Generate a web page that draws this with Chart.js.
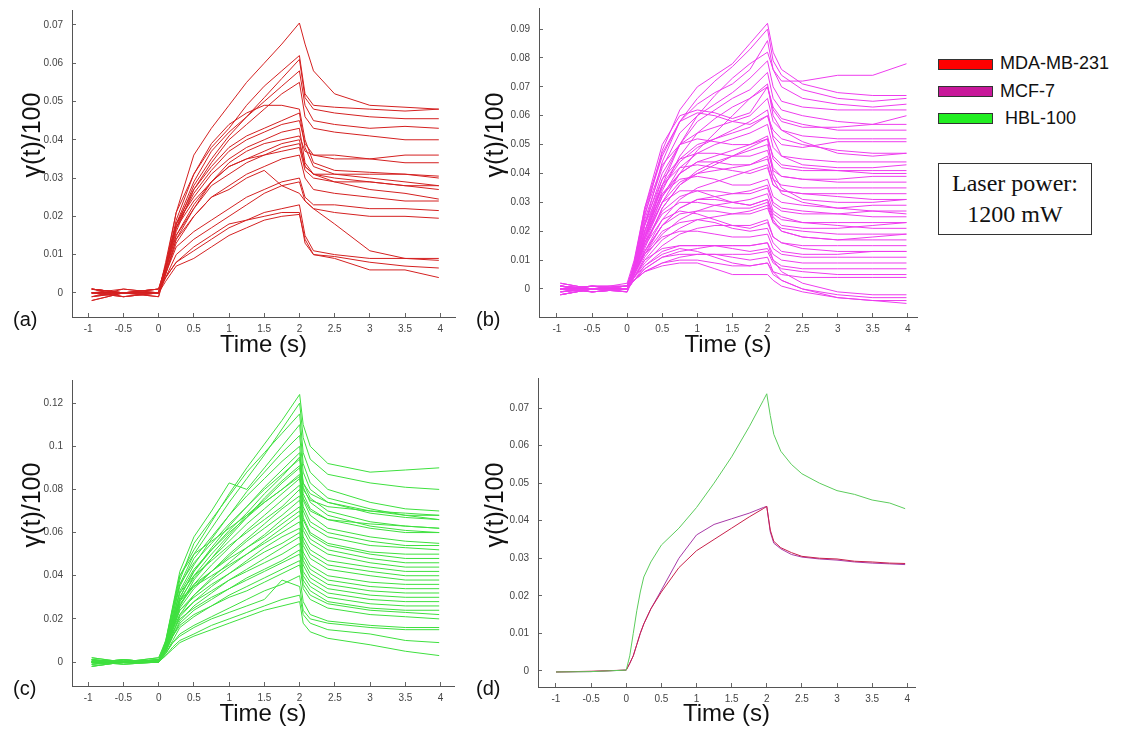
<!DOCTYPE html>
<html>
<head>
<meta charset="utf-8">
<script src="https://cdn.jsdelivr.net/npm/chart.js@4.4.1/dist/chart.umd.min.js"></script>
<style>
  body { margin: 0; background: #fff; width: 1121px; height: 729px; position: relative; overflow: hidden;
         font-family: "Liberation Sans", Arial, sans-serif; color: #111; }
  canvas { position: absolute; }
  .ytitle { position: absolute; font-size: 25px; white-space: nowrap; transform: translate(-50%, -50%) rotate(-90deg); }
  .plabel { position: absolute; font-size: 20px; line-height: 20px; }
  .swatch { position: absolute; left: 938px; width: 53px; height: 9px; border: 1px solid #333; }
  .ltext { position: absolute; left: 1000px; font-size: 18px; line-height: 18px; }
  #laser { position: absolute; left: 938px; top: 163px; width: 154px; height: 72px; border: 1px solid #333;
           font-family: "Liberation Serif", "Times New Roman", serif; font-size: 24px; line-height: 31px;
           text-align: center; box-sizing: border-box; padding-top: 4px; }
</style>
</head>
<body>
<canvas id="chartA" width="470" height="370" style="left:0;top:0"></canvas>
<canvas id="chartB" width="470" height="370" style="left:460px;top:0"></canvas>
<canvas id="chartC" width="470" height="359" style="left:0;top:370px"></canvas>
<canvas id="chartD" width="470" height="359" style="left:460px;top:370px"></canvas>

<div class="ytitle" style="left:31px;top:135px">γ(t)/100</div>
<div class="ytitle" style="left:494px;top:135px">γ(t)/100</div>
<div class="ytitle" style="left:31px;top:505px">γ(t)/100</div>
<div class="ytitle" style="left:494px;top:505px">γ(t)/100</div>

<div class="plabel" style="left:13px;top:309px">(a)</div>
<div class="plabel" style="left:476px;top:309px">(b)</div>
<div class="plabel" style="left:13px;top:678px">(c)</div>
<div class="plabel" style="left:476px;top:678px">(d)</div>

<div class="swatch" style="top:59px;background:#ff0000"></div>
<div class="ltext" style="top:54px">MDA-MB-231</div>
<div class="swatch" style="top:86px;background:#c8189a"></div>
<div class="ltext" style="top:82px">MCF-7</div>
<div class="swatch" style="top:113px;background:#22ee22"></div>
<div class="ltext" style="top:109px">&nbsp;HBL-100</div>
<div id="laser">Laser power:<br>1200 mW</div>

<script>
// tick values
const xTicks = [-1, -0.5, 0, 0.5, 1, 1.5, 2, 2.5, 3, 3.5, 4];
const yTicksA = [0, 0.01, 0.02, 0.03, 0.04, 0.05, 0.06, 0.07];
const yTicksB = [0, 0.01, 0.02, 0.03, 0.04, 0.05, 0.06, 0.07, 0.08, 0.09];
const yTicksC = [0, 0.02, 0.04, 0.06, 0.08, 0.1, 0.12];
const yTicksD = [0, 0.01, 0.02, 0.03, 0.04, 0.05, 0.06, 0.07];

// (a) MDA-MB-231 single cells
const timeA = [-0.95, -0.5, 0, 0.1, 0.25, 0.5, 0.75, 1, 1.25, 1.5, 1.75, 2, 2.08, 2.2, 2.5, 3, 3.5, 3.98];
const mdaCells = [
  [0.001,0.000,0.000, 0.007,0.021,0.036,0.043,0.049,0.055,0.060,0.065,0.0705, 0.065,0.058,0.052,0.049,0.0485,0.048],
  [-0.002,0.000,0.001, 0.007,0.019,0.031,0.038,0.043,0.049,0.054,0.058,0.062, 0.052,0.049,0.0485,0.048,0.0475,0.048],
  [0.000,-0.001,0.000, 0.006,0.017,0.028,0.035,0.041,0.046,0.051,0.056,0.061, 0.051,0.048,0.047,0.046,0.0455,0.0455],
  [0.001,0.000,-0.001, 0.007,0.018,0.029,0.037,0.042,0.046,0.050,0.054,0.058, 0.049,0.045,0.044,0.043,0.0435,0.043],
  [0.000,0.000,0.000, 0.006,0.016,0.027,0.034,0.040,0.044,0.048,0.052,0.055, 0.046,0.043,0.042,0.041,0.040,0.040],
  [-0.001,0.001,0.000, 0.008,0.021,0.031,0.039,0.044,0.047,0.049,0.049,0.048, 0.040,0.034,0.032,0.0315,0.031,0.030],
  [0.000,0.000,0.001, 0.007,0.018,0.027,0.033,0.038,0.041,0.043,0.045,0.047, 0.038,0.033,0.031,0.030,0.029,0.028],
  [0.001,-0.001,0.000, 0.006,0.017,0.026,0.032,0.037,0.040,0.042,0.044,0.045, 0.039,0.036,0.035,0.035,0.036,0.036],
  [0.000,0.000,0.000, 0.007,0.018,0.025,0.031,0.035,0.038,0.040,0.042,0.043, 0.034,0.031,0.030,0.029,0.028,0.027],
  [-0.002,0.000,0.001, 0.006,0.015,0.022,0.029,0.034,0.037,0.039,0.040,0.041, 0.037,0.036,0.036,0.035,0.034,0.034],
  [0.001,0.000,0.000, 0.007,0.017,0.024,0.029,0.033,0.035,0.037,0.039,0.040, 0.033,0.031,0.029,0.027,0.026,0.0245],
  [0.000,0.000,-0.001, 0.005,0.014,0.020,0.025,0.028,0.031,0.033,0.035,0.036, 0.030,0.027,0.026,0.025,0.024,0.024],
  [0.000,0.001,0.000, 0.005,0.013,0.020,0.025,0.027,0.030,0.032,0.028,0.026, 0.024,0.022,0.018,0.011,0.009,0.009],
  [-0.001,0.000,0.000, 0.005,0.012,0.016,0.019,0.022,0.025,0.027,0.029,0.030, 0.025,0.023,0.023,0.022,0.022,0.0215],
  [0.001,0.000,0.000, 0.004,0.010,0.014,0.017,0.020,0.023,0.026,0.028,0.029, 0.024,0.022,0.021,0.020,0.020,0.0195],
  [0.000,0.000,0.001, 0.004,0.008,0.011,0.014,0.017,0.019,0.021,0.022,0.023, 0.015,0.011,0.010,0.009,0.009,0.0085],
  [0.000,-0.001,0.000, 0.003,0.007,0.009,0.012,0.015,0.017,0.019,0.020,0.0205, 0.014,0.010,0.009,0.006,0.006,0.004],
  [0.001,0.000,0.000, 0.004,0.008,0.012,0.015,0.018,0.019,0.020,0.021,0.021, 0.013,0.010,0.0095,0.008,0.007,0.0065],
  [0.000,0.000,0.000, 0.005,0.014,0.022,0.028,0.031,0.034,0.036,0.038,0.039, 0.033,0.031,0.031,0.031,0.031,0.0305],
  [-0.001,0.000,0.000, 0.006,0.015,0.023,0.029,0.033,0.035,0.036,0.037,0.038, 0.032,0.030,0.029,0.029,0.028,0.028]
];

// (b) MCF-7 single cells
const timeB = [-0.95, -0.5, 0, 0.1, 0.25, 0.5, 0.75, 1, 1.25, 1.5, 1.75, 2, 2.08, 2.2, 2.5, 3, 3.5, 3.98];
const mcfCells = [
  [0.002,0.000,0.001, 0.008,0.025,0.048,0.062,0.070,0.074,0.078,0.085,0.092, 0.082,0.076,0.071,0.068,0.067,0.067],
  [-0.002,0.000,0.000, 0.007,0.022,0.044,0.058,0.066,0.072,0.077,0.083,0.090, 0.079,0.074,0.069,0.066,0.065,0.066],
  [0.000,0.001,0.000, 0.006,0.018,0.036,0.050,0.060,0.067,0.073,0.078,0.082, 0.076,0.072,0.072,0.074,0.074,0.078],
  [0.001,0.000,-0.001, 0.009,0.027,0.046,0.058,0.064,0.068,0.071,0.076,0.086, 0.076,0.070,0.066,0.064,0.063,0.064],
  [-0.001,0.001,0.001, 0.008,0.024,0.042,0.054,0.060,0.064,0.068,0.073,0.079, 0.070,0.065,0.063,0.062,0.062,0.062],
  [0.001,-0.001,0.000, 0.007,0.020,0.038,0.050,0.058,0.062,0.066,0.069,0.075, 0.066,0.062,0.060,0.058,0.057,0.057],
  [0.000,0.000,0.002, 0.010,0.028,0.047,0.058,0.061,0.060,0.058,0.057,0.060, 0.055,0.052,0.050,0.048,0.047,0.047],
  [-0.002,0.000,0.000, 0.006,0.018,0.034,0.046,0.054,0.059,0.063,0.066,0.070, 0.063,0.059,0.057,0.055,0.055,0.055],
  [0.001,0.000,0.000, 0.008,0.022,0.040,0.050,0.054,0.056,0.058,0.060,0.066, 0.058,0.055,0.053,0.052,0.052,0.052],
  [0.000,0.001,-0.001, 0.007,0.020,0.036,0.045,0.050,0.052,0.054,0.056,0.060, 0.053,0.050,0.049,0.051,0.051,0.051],
  [0.002,0.000,0.001, 0.009,0.026,0.043,0.050,0.052,0.051,0.050,0.050,0.052, 0.046,0.043,0.042,0.041,0.040,0.040],
  [-0.001,0.000,0.000, 0.006,0.017,0.032,0.042,0.047,0.050,0.052,0.054,0.057, 0.049,0.046,0.045,0.044,0.044,0.044],
  [0.000,0.000,0.001, 0.008,0.023,0.038,0.045,0.047,0.047,0.046,0.046,0.048, 0.041,0.039,0.038,0.037,0.037,0.037],
  [0.001,-0.001,0.000, 0.007,0.019,0.033,0.040,0.044,0.046,0.048,0.050,0.053, 0.045,0.042,0.041,0.041,0.041,0.041],
  [0.000,0.000,-0.001, 0.005,0.014,0.028,0.036,0.041,0.044,0.046,0.048,0.050, 0.042,0.039,0.038,0.038,0.039,0.039],
  [-0.002,0.000,0.001, 0.008,0.022,0.036,0.042,0.043,0.042,0.041,0.040,0.042, 0.036,0.034,0.033,0.033,0.033,0.033],
  [0.001,0.000,0.000, 0.006,0.017,0.030,0.037,0.040,0.041,0.042,0.043,0.045, 0.038,0.036,0.035,0.035,0.035,0.035],
  [0.000,0.001,0.000, 0.007,0.020,0.033,0.038,0.039,0.038,0.036,0.036,0.038, 0.032,0.030,0.029,0.028,0.029,0.029],
  [0.001,0.000,0.001, 0.005,0.013,0.024,0.031,0.035,0.037,0.039,0.041,0.043, 0.036,0.034,0.033,0.032,0.031,0.031],
  [-0.001,0.000,0.000, 0.006,0.016,0.027,0.032,0.034,0.034,0.033,0.033,0.035, 0.029,0.027,0.026,0.026,0.027,0.027],
  [0.000,-0.001,0.000, 0.005,0.012,0.022,0.028,0.031,0.032,0.033,0.034,0.036, 0.030,0.028,0.027,0.026,0.025,0.025],
  [0.002,0.000,0.000, 0.007,0.018,0.030,0.034,0.034,0.032,0.030,0.029,0.031, 0.026,0.024,0.023,0.023,0.023,0.023],
  [0.000,0.000,0.001, 0.004,0.011,0.019,0.024,0.027,0.029,0.030,0.031,0.033, 0.027,0.025,0.023,0.022,0.021,0.021],
  [-0.001,0.001,0.000, 0.005,0.013,0.022,0.026,0.027,0.027,0.026,0.026,0.028, 0.023,0.021,0.020,0.019,0.019,0.019],
  [0.001,0.000,-0.001, 0.004,0.010,0.017,0.021,0.024,0.025,0.026,0.027,0.029, 0.023,0.020,0.018,0.017,0.017,0.017],
  [0.000,0.000,0.000, 0.006,0.015,0.024,0.027,0.026,0.024,0.022,0.021,0.023, 0.018,0.016,0.015,0.015,0.015,0.015],
  [-0.002,0.000,0.001, 0.004,0.009,0.015,0.019,0.021,0.022,0.022,0.022,0.024, 0.018,0.016,0.014,0.013,0.013,0.013],
  [0.001,0.000,0.000, 0.005,0.012,0.018,0.020,0.020,0.019,0.018,0.018,0.019, 0.014,0.012,0.011,0.011,0.011,0.011],
  [0.000,-0.001,0.000, 0.003,0.008,0.013,0.015,0.015,0.015,0.015,0.015,0.016, 0.012,0.010,0.009,0.009,0.009,0.009],
  [0.000,0.001,0.001, 0.004,0.010,0.014,0.015,0.015,0.015,0.014,0.013,0.014, 0.010,0.008,0.007,0.007,0.007,0.007],
  [-0.001,0.000,0.000, 0.003,0.007,0.011,0.012,0.012,0.012,0.012,0.012,0.013, 0.009,0.007,0.006,0.005,0.005,0.005],
  [0.001,0.000,0.000, 0.003,0.006,0.009,0.010,0.010,0.009,0.008,0.008,0.009, 0.006,0.005,0.004,0.004,0.004,0.004],
  [0.000,0.000,0.000, 0.003,0.006,0.008,0.009,0.009,0.007,0.005,0.005,0.005, 0.003,0.001,-0.001,-0.003,-0.004,-0.004],
  [-0.002,0.000,0.000, 0.003,0.006,0.009,0.011,0.012,0.012,0.011,0.010,0.011, 0.006,0.003,0.000,-0.002,-0.003,-0.003],
  [0.000,0.000,0.001, 0.003,0.007,0.011,0.013,0.014,0.015,0.015,0.015,0.016, 0.010,0.006,0.002,-0.001,-0.002,-0.002],
  [0.001,-0.001,0.000, 0.004,0.008,0.012,0.014,0.013,0.011,0.009,0.008,0.009, 0.005,0.003,0.000,-0.003,-0.004,-0.005],
  [0.000,0.000,0.000, 0.009,0.028,0.050,0.060,0.062,0.061,0.059,0.061,0.070, 0.062,0.058,0.056,0.056,0.057,0.060],
  [0.001,0.000,0.000, 0.006,0.016,0.030,0.040,0.048,0.054,0.060,0.066,0.071, 0.060,0.055,0.051,0.047,0.046,0.047],
  [0.000,0.000,0.000, 0.005,0.015,0.028,0.036,0.040,0.043,0.046,0.049,0.052, 0.040,0.035,0.031,0.030,0.030,0.031],
  [0.000,0.001,0.000, 0.006,0.018,0.032,0.040,0.044,0.044,0.043,0.043,0.046, 0.038,0.033,0.030,0.028,0.027,0.026],
  [-0.001,0.000,0.000, 0.007,0.020,0.035,0.044,0.049,0.052,0.055,0.058,0.062, 0.052,0.046,0.043,0.042,0.042,0.043],
  [0.000,0.000,0.001, 0.005,0.013,0.022,0.028,0.031,0.031,0.030,0.029,0.031, 0.025,0.022,0.021,0.021,0.022,0.023],
  [0.001,0.000,0.000, 0.006,0.016,0.026,0.030,0.030,0.029,0.028,0.028,0.030, 0.024,0.020,0.018,0.017,0.018,0.019],
  [0.000,-0.001,0.000, 0.005,0.012,0.020,0.023,0.024,0.023,0.021,0.020,0.021, 0.016,0.013,0.012,0.012,0.013,0.013]
];

// (c) HBL-100 single cells
const timeC = [-0.95, -0.5, 0, 0.1, 0.2, 0.3, 0.5, 0.75, 1, 1.25, 1.5, 1.75, 2, 2.05, 2.15, 2.4, 3, 3.5, 3.98];
const hblCells = [
  [0.001,0.000,0.002, 0.010,0.025,0.040,0.052,0.065,0.078,0.090,0.101,0.112,0.124, 0.110,0.100,0.092,0.088,0.089,0.090],
  [0.000,0.001,0.000, 0.008,0.022,0.036,0.050,0.062,0.074,0.085,0.096,0.108,0.120, 0.104,0.094,0.087,0.083,0.081,0.080],
  [-0.002,0.000,0.001, 0.009,0.024,0.038,0.055,0.066,0.077,0.088,0.097,0.106,0.115, 0.097,0.088,0.080,0.074,0.071,0.070],
  [0.001,-0.001,0.000, 0.010,0.026,0.042,0.058,0.070,0.083,0.080,0.090,0.100,0.110, 0.092,0.083,0.076,0.071,0.068,0.068],
  [0.000,0.000,0.001, 0.007,0.020,0.033,0.045,0.057,0.068,0.079,0.088,0.097,0.105, 0.088,0.080,0.074,0.069,0.067,0.066],
  [0.001,0.000,0.000, 0.008,0.022,0.035,0.048,0.058,0.068,0.077,0.085,0.093,0.100, 0.083,0.076,0.070,0.065,0.063,0.062],
  [-0.001,0.001,0.000, 0.007,0.019,0.030,0.042,0.053,0.063,0.072,0.081,0.089,0.097, 0.081,0.074,0.068,0.063,0.061,0.060],
  [0.000,0.000,0.002, 0.009,0.024,0.036,0.046,0.055,0.064,0.072,0.080,0.087,0.094, 0.078,0.071,0.066,0.062,0.060,0.060],
  [0.002,0.000,0.000, 0.006,0.017,0.028,0.040,0.050,0.059,0.068,0.075,0.083,0.090, 0.075,0.068,0.062,0.058,0.056,0.055],
  [0.000,-0.001,0.000, 0.008,0.020,0.032,0.043,0.052,0.060,0.067,0.074,0.080,0.087, 0.072,0.065,0.060,0.056,0.054,0.054],
  [0.000,0.000,0.001, 0.007,0.018,0.029,0.039,0.048,0.056,0.064,0.071,0.078,0.085, 0.070,0.063,0.058,0.054,0.053,0.052],
  [-0.002,0.000,0.000, 0.006,0.016,0.026,0.036,0.045,0.053,0.061,0.068,0.075,0.082, 0.067,0.060,0.055,0.051,0.050,0.050],
  [0.001,0.000,0.001, 0.008,0.021,0.032,0.040,0.047,0.054,0.060,0.066,0.072,0.080, 0.066,0.059,0.054,0.050,0.048,0.048],
  [0.000,0.001,0.000, 0.006,0.015,0.025,0.034,0.042,0.050,0.057,0.064,0.071,0.077, 0.063,0.057,0.052,0.048,0.046,0.046],
  [0.000,0.000,0.000, 0.007,0.017,0.027,0.035,0.042,0.049,0.056,0.062,0.068,0.075, 0.061,0.055,0.050,0.046,0.044,0.044],
  [0.001,0.000,0.000, 0.005,0.013,0.022,0.031,0.039,0.046,0.053,0.059,0.066,0.072, 0.058,0.052,0.047,0.044,0.042,0.042],
  [-0.001,0.000,0.001, 0.007,0.018,0.028,0.036,0.042,0.048,0.053,0.058,0.064,0.070, 0.056,0.050,0.045,0.042,0.040,0.040],
  [0.000,0.001,0.000, 0.006,0.015,0.024,0.031,0.038,0.044,0.050,0.056,0.062,0.068, 0.054,0.048,0.043,0.040,0.038,0.038],
  [0.002,0.000,0.000, 0.008,0.020,0.029,0.035,0.040,0.045,0.050,0.055,0.060,0.065, 0.051,0.045,0.040,0.037,0.036,0.036],
  [0.000,0.000,0.001, 0.005,0.013,0.021,0.028,0.035,0.041,0.047,0.053,0.058,0.062, 0.049,0.043,0.038,0.035,0.034,0.034],
  [0.000,-0.001,0.000, 0.006,0.016,0.024,0.030,0.036,0.041,0.046,0.051,0.055,0.060, 0.047,0.041,0.036,0.033,0.032,0.032],
  [-0.001,0.000,0.000, 0.005,0.012,0.019,0.026,0.032,0.038,0.043,0.048,0.053,0.058, 0.045,0.039,0.034,0.031,0.030,0.030],
  [0.001,0.000,0.000, 0.006,0.015,0.022,0.028,0.033,0.038,0.042,0.046,0.050,0.055, 0.042,0.037,0.032,0.029,0.028,0.028],
  [0.000,0.000,0.001, 0.005,0.012,0.018,0.024,0.029,0.034,0.039,0.043,0.047,0.052, 0.040,0.035,0.030,0.027,0.026,0.026],
  [0.000,0.001,0.000, 0.006,0.014,0.020,0.025,0.030,0.034,0.038,0.042,0.046,0.050, 0.038,0.033,0.028,0.025,0.024,0.024],
  [-0.002,0.000,0.000, 0.004,0.010,0.016,0.021,0.026,0.031,0.035,0.039,0.043,0.047, 0.036,0.031,0.027,0.024,0.023,0.022],
  [0.001,0.000,0.001, 0.005,0.012,0.017,0.022,0.026,0.030,0.033,0.037,0.041,0.045, 0.034,0.029,0.025,0.022,0.021,0.020],
  [0.000,0.000,0.000, 0.004,0.009,0.013,0.017,0.021,0.025,0.029,0.033,0.036,0.040, 0.028,0.022,0.019,0.017,0.016,0.016],
  [0.000,0.000,0.001, 0.004,0.009,0.012,0.016,0.020,0.023,0.026,0.029,0.038,0.035, 0.024,0.020,0.018,0.016,0.015,0.015],
  [-0.001,0.000,0.000, 0.003,0.007,0.010,0.013,0.017,0.020,0.023,0.026,0.029,0.031, 0.022,0.018,0.015,0.013,0.010,0.009],
  [0.000,0.000,0.000, 0.003,0.006,0.009,0.012,0.015,0.018,0.021,0.024,0.026,0.028, 0.018,0.014,0.011,0.008,0.005,0.003],
  [0.000,0.001,0.000, 0.009,0.025,0.040,0.050,0.056,0.062,0.068,0.074,0.080,0.086, 0.076,0.070,0.066,0.064,0.063,0.062],
  [0.000,0.000,0.000, 0.007,0.018,0.030,0.042,0.052,0.061,0.069,0.078,0.086,0.095, 0.083,0.078,0.074,0.070,0.068,0.066],
  [0.001,0.000,0.000, 0.006,0.016,0.026,0.038,0.048,0.058,0.067,0.076,0.084,0.091, 0.080,0.075,0.072,0.070,0.069,0.068]
];

// (d) population means
const timeD = [-1, -0.5, 0, 0.05, 0.1, 0.15, 0.2, 0.25, 0.35, 0.5, 0.75, 1, 1.25, 1.5, 1.75, 1.95, 2, 2.05, 2.1, 2.2, 2.35, 2.5, 2.75, 3, 3.25, 3.5, 3.75, 3.97];
const hblMean = [-0.0003,-0.0002,0.0002, 0.004,0.010,0.016,0.021,0.025,0.029,0.0335,0.038,0.0435,0.050,0.057,0.065,0.072,0.0738, 0.068,0.063,0.0585,0.055,0.0525,0.050,0.048,0.047,0.0455,0.0447,0.0432];
const mcfMean = [-0.0003,-0.0002,0.0002, 0.002,0.004,0.007,0.010,0.0125,0.0165,0.0215,0.030,0.0362,0.039,0.0405,0.042,0.0435,0.0438, 0.037,0.034,0.0325,0.031,0.0303,0.0298,0.0295,0.029,0.0287,0.0285,0.0283];
const mdaMean = [-0.0003,-0.0001,0.0002, 0.002,0.004,0.007,0.010,0.0125,0.0165,0.021,0.0275,0.032,0.035,0.038,0.041,0.0432,0.0438, 0.0375,0.0345,0.0328,0.0315,0.0305,0.030,0.0298,0.0292,0.029,0.0287,0.0286];

function toPoints(t, vals) {
  return vals.map((v, i) => ({ x: t[i], y: v }));
}

function lineSet(t, vals, color) {
  return { data: toPoints(t, vals), borderColor: color, borderWidth: 1, pointRadius: 0, tension: 0 };
}

function makePanel(id, datasets, cfg) {
  const tickFont = { family: '"Liberation Sans", Arial, sans-serif', size: 10 };
  new Chart(document.getElementById(id), {
    type: 'line',
    data: { datasets: datasets },
    options: {
      responsive: false,
      animation: false,
      events: [],
      layout: { padding: { top: cfg.padTop, right: cfg.padRight, left: 0, bottom: 0 } },
      plugins: { legend: { display: false }, tooltip: { enabled: false } },
      scales: {
        x: {
          type: 'linear',
          min: cfg.xMin, max: cfg.xMax,
          afterBuildTicks: s => { s.ticks = xTicks.map(v => ({ value: v })); },
          afterFit: s => { s.height = cfg.xHeight; s.paddingLeft = 0; s.paddingRight = 0; },
          ticks: { autoSkip: false, maxRotation: 0, padding: 10, color: '#444', font: tickFont,
                   callback: v => String(v) },
          // negative tick length draws the tick marks inside the plot, as in the figure
          grid: { drawOnChartArea: false, tickLength: -4, color: '#666' },
          border: { color: '#555' },
          title: { display: true, text: 'Time (s)', color: '#111',
                   font: { family: '"Liberation Sans", Arial, sans-serif', size: 24 },
                   padding: { top: 0, bottom: cfg.titlePad } }
        },
        y: {
          min: cfg.yMin, max: cfg.yMax,
          afterBuildTicks: s => { s.ticks = cfg.yTicks.map(v => ({ value: v })); },
          afterFit: s => { s.width = cfg.yWidth; s.paddingTop = 0; s.paddingBottom = 0; },
          ticks: { autoSkip: false, padding: 13, color: '#444', font: tickFont,
                   callback: v => String(v) },
          grid: { drawOnChartArea: false, tickLength: -4, color: '#666' },
          border: { color: '#555' }
        }
      }
    }
  });
}

makePanel('chartA', mdaCells.map(v => lineSet(timeA, v, '#d42020')), {
  padTop: 10, padRight: 15, yWidth: 72, xHeight: 53, titlePad: 10,
  xMin: -1.23, xMax: 4.21, yMin: -0.0063, yMax: 0.0739, yTicks: yTicksA
});
makePanel('chartB', mcfCells.map(v => lineSet(timeB, v, '#ee3cee')), {
  padTop: 8, padRight: 13, yWidth: 79, xHeight: 53, titlePad: 10,
  xMin: -1.256, xMax: 4.13, yMin: -0.0097, yMax: 0.0973, yTicks: yTicksB
});
makePanel('chartC', hblCells.map(v => lineSet(timeC, v, '#3ee03e')), {
  padTop: 10, padRight: 16, yWidth: 72, xHeight: 43, titlePad: 0,
  xMin: -1.23, xMax: 4.19, yMin: -0.0111, yMax: 0.1307, yTicks: yTicksC
});
makePanel('chartD', [
  lineSet(timeD, hblMean, '#5ccc5c'),
  lineSet(timeD, mdaMean, '#c8204a'),
  lineSet(timeD, mcfMean, '#a83aa8')
], {
  padTop: 8, padRight: 15, yWidth: 78, xHeight: 42, titlePad: 0,
  xMin: -1.256, xMax: 4.11, yMin: -0.0043, yMax: 0.078, yTicks: yTicksD
});
</script>
</body>
</html>
